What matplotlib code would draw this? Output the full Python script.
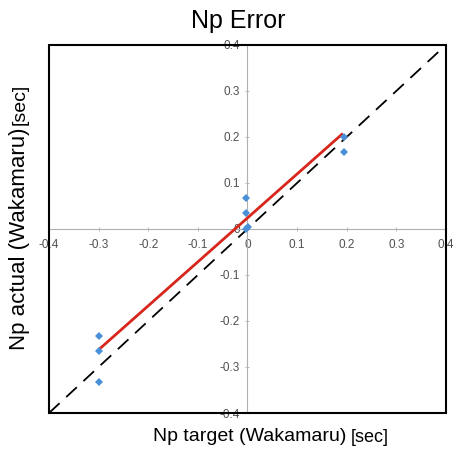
import matplotlib.pyplot as plt
import numpy as np
from matplotlib.patches import Rectangle

plt.rcParams['font.family'] = ['Liberation Sans', 'DejaVu Sans']

# Np target vs. measured Np on Wakamaru [sec]
np_target = [-0.3, -0.3, -0.3, -0.002, -0.002, -0.002, 0.002, 0.195, 0.195]
np_actual = [-0.233, -0.265, -0.332, 0.068, 0.034, 0.0, 0.004, 0.199, 0.167]

# linear fit drawn in red
fit_slope = 0.955
fit_intercept = 0.024
fit_range = [-0.3, 0.19]

ticks = [-0.4, -0.3, -0.2, -0.1, 0, 0.1, 0.2, 0.3, 0.4]
tick_labels = ['-0.4', '-0.3', '-0.2', '-0.1', '0', '0.1', '0.2', '0.3', '0.4']


fig = plt.figure(figsize=(4.6, 4.5), dpi=100)
ax = fig.add_axes([0.1065, 0.0822, 0.863, 0.818])

ax.set_xlim(-0.4, 0.4)
ax.set_ylim(-0.4, 0.4)

# axis lines through the origin
ax.spines['left'].set_position(('data', 0))
ax.spines['bottom'].set_position(('data', 0))
for s in ['left', 'bottom']:
    ax.spines[s].set_color('#b0b0b0')
    ax.spines[s].set_linewidth(0.8)
for s in ['top', 'right']:
    ax.spines[s].set_visible(False)

ax.set_xticks(ticks)
ax.set_xticklabels(tick_labels)
ax.set_yticks(ticks)
ax.set_yticklabels(tick_labels)
ax.tick_params(direction='inout', length=3, width=0.6, color='#b0b0b0',
               labelcolor='#505050', labelsize=8.5)
ax.tick_params(axis='x', pad=6)
ax.tick_params(axis='y', pad=4)

# outer frame
ax.add_patch(Rectangle((0, 0), 1, 1, transform=ax.transAxes, fill=False,
                       edgecolor='black', linewidth=1.5, clip_on=False, zorder=5))

# y = x reference
ax.plot([-0.4, 0.4], [-0.4, 0.4], color='black', linewidth=1.3,
        dashes=(8, 5), zorder=2)

fx = np.array(fit_range)
ax.plot(fx, fit_slope * fx + fit_intercept, color='#d8261c', linewidth=2, zorder=3)

ax.plot(np_target, np_actual, 'D', color='#4a90d9', markersize=4,
        markeredgewidth=0, zorder=4)

fig.text(0.517, 0.953, 'Np Error', ha='center', va='center', fontsize=18)

# axis titles, unit in a smaller font after the name
xl = fig.text(0.333, 0.029, 'Np target (Wakamaru)', ha='left', va='center', fontsize=14)
ax.annotate('[sec]', xy=(1, 0.45), xycoords=xl, xytext=(3, 0),
            textcoords='offset points', ha='left', va='center', fontsize=13)

yl = fig.text(0.043, 0.222, 'Np actual (Wakamaru)', ha='center', va='bottom',
              rotation=90, fontsize=16)
ax.annotate('[sec]', xy=(0.5, 1), xycoords=yl, xytext=(0, 2),
            textcoords='offset points', ha='center', va='bottom',
            rotation=90, fontsize=14)

plt.savefig('out.png', dpi=100)
